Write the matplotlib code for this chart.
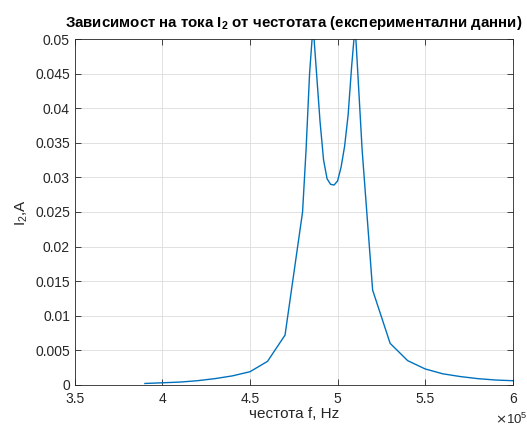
import matplotlib
matplotlib.use("Agg")
import matplotlib.pyplot as plt
from matplotlib.ticker import FuncFormatter

plt.rcParams['font.family'] = ['Liberation Sans', 'DejaVu Sans']

# честота в единици 1e5 Hz, ток в A
freq = [3.9, 4.0, 4.1, 4.2, 4.3, 4.4, 4.5, 4.6, 4.7, 4.8, 4.82, 4.84, 4.86,
        4.88, 4.90, 4.92, 4.94, 4.96, 4.98, 5.00, 5.02, 5.04, 5.06, 5.08,
        5.10, 5.12, 5.14, 5.2, 5.3, 5.4, 5.5, 5.6, 5.7, 5.8, 5.9, 6.0]
current = [0.0002, 0.0003, 0.0004, 0.0006, 0.0009, 0.0013, 0.0019, 0.0034,
           0.0072, 0.025, 0.034, 0.045, 0.052, 0.045, 0.038, 0.0325, 0.0298,
           0.0290, 0.0289, 0.0295, 0.0315, 0.0345, 0.039, 0.046, 0.052, 0.043,
           0.034, 0.0137, 0.006, 0.0035, 0.0023, 0.0016, 0.0012, 0.0009,
           0.0007, 0.0006]
freq_hz = [f * 1e5 for f in freq]

xticks = [3.5e5, 4e5, 4.5e5, 5e5, 5.5e5, 6e5]
yticks = [0, 0.005, 0.01, 0.015, 0.02, 0.025, 0.03, 0.035, 0.04, 0.045, 0.05]

fig = plt.figure(figsize=(5.27, 4.3), dpi=100, facecolor="w")
ax = fig.add_axes([0.142, 0.105, 0.831, 0.804])
ax.plot(freq_hz, current, color="#0072BD", linewidth=1.0)

ax.set_xlim(3.5e5, 6e5)
ax.set_ylim(0, 0.05)
ax.set_xticks(xticks)
ax.set_yticks(yticks)
ax.xaxis.set_major_formatter(FuncFormatter(lambda v, p: "%g" % (v / 1e5)))
ax.yaxis.set_major_formatter(FuncFormatter(lambda v, p: "%g" % v))
ax.tick_params(direction="in", length=4, width=0.6, colors="#262626",
               labelsize=10, top=True, right=True)
ax.tick_params(axis="x", pad=5)
ax.grid(True, color="#dcdcdc", linewidth=0.6)
ax.set_axisbelow(True)
for s in ax.spines.values():
    s.set_color("#262626")
    s.set_linewidth(0.6)

ax.set_xlabel("честота f, Hz", fontsize=11, color="#262626", labelpad=1)
ax.set_ylabel(r"I$\mathregular{_2}$,A", fontsize=11, color="#262626")
ax.set_title(r"Зависимост на тока I$\mathregular{_2}$ от честотата (експериментални данни)",
             fontsize=10.8, fontweight="bold", pad=9)
ax.text(1.035, -0.1, r"$\times\mathregular{10^5}$", transform=ax.transAxes,
        ha="right", va="center", fontsize=9.5, color="#262626")

fig.savefig("out.png", dpi=100)
